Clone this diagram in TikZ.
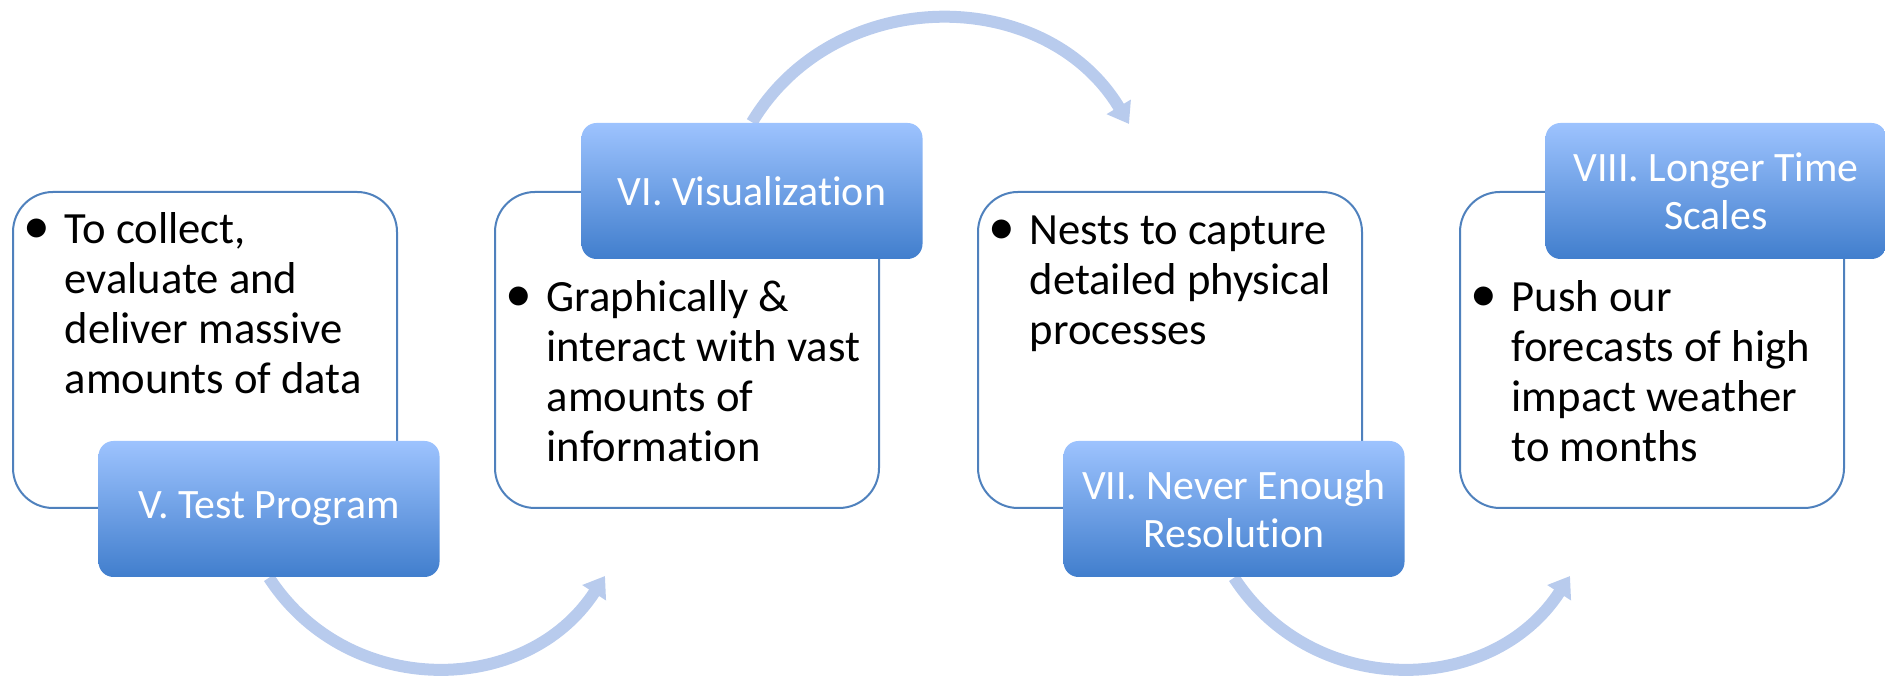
\documentclass[tikz,border=0pt]{standalone}
\usepackage{fontspec}
\usepackage{graphicx}
\setmainfont{Carlito}[Ligatures=NoCommon]
\usetikzlibrary{arrows.meta,positioning,backgrounds}
\definecolor{panelline}{RGB}{79,129,189}
\definecolor{tabtop}{RGB}{157,195,254}
\definecolor{tabbottom}{RGB}{65,126,205}
\definecolor{flowblue}{RGB}{184,203,237}

% bullet with hanging lines
\newcommand{\bullettext}[1]{%
  \begin{tabular}[t]{@{}p{0.35cm}@{}l@{}}
    \hspace*{-0.06cm}\scalebox{1.2}{\textbullet} & \begin{tabular}[t]{@{}l@{}}#1\end{tabular}
  \end{tabular}}

\begin{document}
\begin{tikzpicture}[
    panel/.style={draw=panelline, line width=0.02cm, fill=white, rounded corners=0.4cm,
        minimum width=3.84cm, minimum height=3.16cm},
    tab/.style={rounded corners=0.15cm, top color=tabtop, bottom color=tabbottom,
        minimum width=3.41cm, minimum height=1.36cm, inner sep=0pt, align=center,
        text=white, font=\fontsize{11.9}{13.65}\selectfont},
    bodytext/.style={inner sep=0pt, font=\fontsize{12.7}{14.23}\selectfont},
    flow/.style={line width=0.12cm, draw=flowblue, looseness=1.1,
        -{Triangle[length=0.2cm,width=0.27cm]}}
]
    \useasboundingbox (0,0) rectangle (18.85,6.79);

    % Panels
    \node[panel] (p5) at (2.05,3.29) {};
    \node[panel] (p6) at (6.87,3.29) {};
    \node[panel] (p7) at (11.70,3.29) {};
    \node[panel] (p8) at (16.52,3.29) {};

    % Panel texts
    \node[bodytext, below right=0.17cm and 0.17cm of p5.north west] (x5)
        {\bullettext{To collect,\\ evaluate and\\ deliver massive\\ amounts of data}};
    \node[bodytext, below right=0.85cm and 0.17cm of p6.north west] (x6)
        {\bullettext{Graphically \&\\ interact with vast\\ amounts of\\ information}};
    \node[bodytext, below right=0.18cm and 0.17cm of p7.north west] (x7)
        {\bullettext{Nests to capture\\ detailed physical\\ processes}};
    \node[bodytext, below right=0.85cm and 0.17cm of p8.north west] (x8)
        {\bullettext{Push our\\ forecasts of high\\ impact weather\\ to months}};

    % Titles
    \node[tab, xshift=0.64cm] (t5) at (p5.south) {V. Test Program};
    \node[tab, xshift=0.65cm] (t6) at (p6.north) {VI. Visualization};
    \node[tab, xshift=0.64cm] (t7) at (p7.south) {VII. Never Enough\\Resolution};
    \node[tab, xshift=0.64cm] (t8) at (p8.north) {VIII. Longer Time\\Scales};

    % Arrows
    \coordinate (e6) at (6.05,1.03);
    \coordinate (e7) at (11.29,5.55);
    \coordinate (e8) at (15.70,1.03);
    \begin{scope}[on background layer]
        \draw[flow] (t5.south) to[out=-57,in=237] (e6);
        \draw[flow] (t6.north) to[out=59,in=121] (e7);
        \draw[flow] (t7.south) to[out=-57,in=237] (e8);
    \end{scope}
\end{tikzpicture}
\end{document}
